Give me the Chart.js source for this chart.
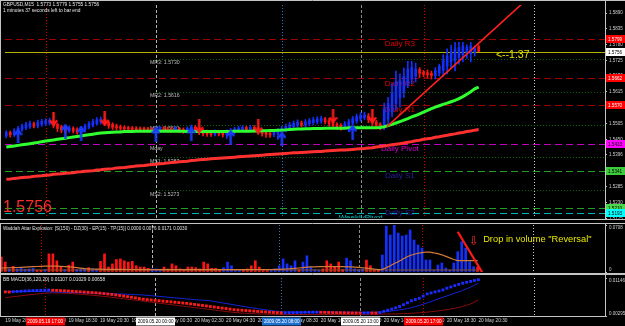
<!DOCTYPE html>
<html>
<head>
<meta charset="utf-8">
<title>GBPUSD M15</title>
<script src="https://cdn.jsdelivr.net/npm/chart.js@4.4.1/dist/chart.umd.min.js"></script>
<style>
  html, body { margin:0; padding:0; background:#000; }
  body { width:625px; height:326px; overflow:hidden; position:relative; }
  canvas { position:absolute; left:0; display:block; }
</style>
</head>
<body>
<canvas id="cMain" width="625" height="223" style="top:0px"></canvas>
<canvas id="cVol" width="625" height="51" style="top:223px"></canvas>
<canvas id="cMacd" width="625" height="52" style="top:274px"></canvas>
<script>
const FONT = "'Liberation Sans', Arial, sans-serif";
Chart.defaults.font.family = FONT;

// ================= DATA =================
const symbolText = 'GBPUSD,M15';
const timerText = '1 minutes 37 seconds left to bar end';
const timerArrow = '<--1:37';

// time axis (bar index)
const X_MIN = -0.33, X_MAX = 152.1;
const timeTickIdx  = [0, 8, 16, 24, 32, 40, 48, 56, 64, 72, 80, 88, 96, 104, 112, 120];
const timeTickText = ['19 May 2009','19 May 16:30','19 May 18:30','19 May 20:30','19 May 22:30','20 May 00:30',
  '20 May 02:30','20 May 04:30','20 May 06:30','20 May 08:30','20 May 10:30','20 May 12:30','20 May 14:30',
  '20 May 16:30','20 May 18:30','20 May 20:30'];
const markIdx  = [10, 38, 70, 90, 106];
const markText = ['2009.05.19 17:00','2009.05.20 00:00','2009.05.20 08:00','2009.05.20 13:00','2009.05.20 17:00'];
const markKind = ['red','white','blue','white','red'];
const sepIdx  = [10, 38, 70, 90, 106, 134];
const sepKind = ['sessionRed','dayGray','sessionBlue','midGray','sessionRed','dayLight'];

// candles
const openP = [
 1.5462,1.5474,1.5466,1.5476,1.5484,1.5490,1.5494,1.5504,1.5496,1.5502,
 1.5505,1.5507,1.5512,1.5502,1.5494,1.5488,1.5479,1.5489,1.5483,1.5476,
 1.5484,1.5492,1.5499,1.5505,1.5510,1.5518,1.5510,1.5502,1.5497,1.5494,
 1.5492,1.5491,1.5490,1.5489,1.5488,1.5488,1.5487,1.5486,1.5480,1.5484,
 1.5490,1.5487,1.5485,1.5480,1.5488,1.5484,1.5477,1.5482,1.5492,1.5486,
 1.5480,1.5476,1.5474,1.5467,1.5476,1.5473,1.5466,1.5472,1.5477,1.5481,
 1.5484,1.5491,1.5484,1.5492,1.5486,1.5480,1.5475,1.5472,1.5466,1.5470,
 1.5476,1.5482,1.5489,1.5494,1.5499,1.5508,1.5500,1.5505,1.5509,1.5511,
 1.5514,1.5521,1.5515,1.5509,1.5503,1.5499,1.5493,1.5498,1.5506,1.5513,
 1.5521,1.5525,1.5532,1.5522,1.5511,1.5503,1.5500,1.5520,1.5545,1.5575,
 1.5595,1.5615,1.5640,1.5660,1.5670,1.5693,1.5684,1.5682,1.5680,1.5672,
 1.5680,1.5690,1.5705,1.5720,1.5725,1.5735,1.5745,1.5752,1.5748,1.5755,
 1.5773];
const closeP = [
 1.5474,1.5466,1.5480,1.5489,1.5497,1.5502,1.5506,1.5496,1.5509,1.5513,
 1.5515,1.5516,1.5498,1.5488,1.5482,1.5479,1.5490,1.5479,1.5475,1.5488,
 1.5497,1.5505,1.5512,1.5518,1.5520,1.5506,1.5497,1.5492,1.5490,1.5488,
 1.5486,1.5485,1.5484,1.5484,1.5483,1.5482,1.5481,1.5480,1.5489,1.5492,
 1.5483,1.5481,1.5480,1.5489,1.5479,1.5477,1.5488,1.5493,1.5481,1.5474,
 1.5470,1.5468,1.5467,1.5477,1.5469,1.5466,1.5477,1.5482,1.5486,1.5489,
 1.5492,1.5484,1.5492,1.5481,1.5475,1.5470,1.5467,1.5465,1.5475,1.5481,
 1.5488,1.5495,1.5501,1.5506,1.5510,1.5500,1.5511,1.5515,1.5518,1.5521,
 1.5523,1.5511,1.5504,1.5498,1.5494,1.5491,1.5504,1.5512,1.5521,1.5529,
 1.5533,1.5535,1.5518,1.5507,1.5499,1.5493,1.5555,1.5575,1.5610,1.5650,
 1.5655,1.5670,1.5695,1.5700,1.5695,1.5680,1.5676,1.5675,1.5672,1.5690,
 1.5705,1.5725,1.5740,1.5755,1.5765,1.5770,1.5775,1.5770,1.5775,1.5768,
 1.5756];
const highP = [
 1.5480,1.5479,1.5487,1.5495,1.5503,1.5509,1.5514,1.5510,1.5517,1.5520,
 1.5522,1.5524,1.5516,1.5506,1.5499,1.5494,1.5497,1.5494,1.5490,1.5495,
 1.5503,1.5512,1.5520,1.5526,1.5528,1.5524,1.5515,1.5508,1.5503,1.5500,
 1.5498,1.5496,1.5495,1.5494,1.5494,1.5493,1.5492,1.5491,1.5494,1.5497,
 1.5495,1.5493,1.5491,1.5495,1.5492,1.5490,1.5494,1.5500,1.5498,1.5491,
 1.5486,1.5482,1.5480,1.5483,1.5481,1.5478,1.5483,1.5488,1.5492,1.5496,
 1.5498,1.5496,1.5499,1.5498,1.5491,1.5485,1.5481,1.5478,1.5481,1.5487,
 1.5495,1.5503,1.5509,1.5514,1.5518,1.5514,1.5519,1.5523,1.5527,1.5529,
 1.5531,1.5527,1.5523,1.5514,1.5508,1.5505,1.5512,1.5520,1.5530,1.5538,
 1.5543,1.5545,1.5540,1.5527,1.5516,1.5508,1.5576,1.5596,1.5644,1.5688,
 1.5678,1.5698,1.5722,1.5722,1.5716,1.5700,1.5690,1.5692,1.5688,1.5700,
 1.5712,1.5745,1.5765,1.5778,1.5788,1.5788,1.5788,1.5779,1.5788,1.5775,
 1.5779];
const lowP = [
 1.5455,1.5458,1.5460,1.5466,1.5478,1.5484,1.5488,1.5490,1.5490,1.5495,
 1.5498,1.5500,1.5490,1.5477,1.5473,1.5470,1.5474,1.5472,1.5468,1.5470,
 1.5478,1.5486,1.5493,1.5499,1.5503,1.5498,1.5488,1.5484,1.5483,1.5481,
 1.5480,1.5479,1.5478,1.5477,1.5477,1.5476,1.5475,1.5474,1.5463,1.5478,
 1.5478,1.5476,1.5474,1.5476,1.5474,1.5471,1.5472,1.5476,1.5474,1.5466,
 1.5462,1.5460,1.5460,1.5462,1.5462,1.5458,1.5453,1.5466,1.5470,1.5475,
 1.5478,1.5478,1.5479,1.5474,1.5467,1.5461,1.5457,1.5457,1.5459,1.5450,
 1.5469,1.5476,1.5482,1.5487,1.5492,1.5493,1.5494,1.5497,1.5501,1.5504,
 1.5506,1.5504,1.5496,1.5490,1.5485,1.5482,1.5487,1.5476,1.5500,1.5506,
 1.5513,1.5518,1.5508,1.5497,1.5489,1.5483,1.5484,1.5494,1.5528,1.5552,
 1.5562,1.5596,1.5630,1.5644,1.5650,1.5665,1.5668,1.5665,1.5660,1.5660,
 1.5670,1.5670,1.5678,1.5698,1.5688,1.5712,1.5720,1.5732,1.5720,1.5740,
 1.5755];

// moving averages
const maFast = [
 1.5423,1.5425,1.5427,1.5429,1.5431,1.5433,1.5435,1.5437,1.5439,1.5442,
 1.5444,1.5446,1.5448,1.5450,1.5452,1.5454,1.5456,1.5458,1.5460,1.5462,
 1.5464,1.5466,1.5468,1.5470,1.5472,1.5473,1.5474,1.5475,1.5476,1.5476,
 1.5477,1.5477,1.5477,1.5478,1.5478,1.5478,1.5478,1.5478,1.5478,1.5478,
 1.5478,1.5478,1.5478,1.5478,1.5478,1.5478,1.5477,1.5477,1.5477,1.5477,
 1.5477,1.5477,1.5477,1.5477,1.5477,1.5477,1.5477,1.5477,1.5478,1.5478,
 1.5478,1.5478,1.5478,1.5479,1.5479,1.5480,1.5480,1.5481,1.5481,1.5482,
 1.5482,1.5483,1.5484,1.5485,1.5486,1.5486,1.5487,1.5487,1.5488,1.5488,
 1.5488,1.5489,1.5489,1.5489,1.5489,1.5489,1.5489,1.5490,1.5490,1.5490,
 1.5490,1.5490,1.5490,1.5490,1.5490,1.5491,1.5494,1.5498,1.5502,1.5507,
 1.5512,1.5517,1.5522,1.5528,1.5533,1.5539,1.5545,1.5551,1.5557,1.5562,
 1.5567,1.5572,1.5576,1.5581,1.5586,1.5592,1.5599,1.5607,1.5616,1.5626,
 1.5632];
const maSlow = [
 1.5311,1.5312,1.5314,1.5315,1.5317,1.5318,1.5319,1.5321,1.5322,1.5323,
 1.5325,1.5326,1.5328,1.5329,1.5330,1.5332,1.5333,1.5334,1.5336,1.5337,
 1.5339,1.5340,1.5341,1.5343,1.5344,1.5346,1.5347,1.5348,1.5350,1.5351,
 1.5352,1.5354,1.5355,1.5357,1.5358,1.5359,1.5361,1.5362,1.5363,1.5365,
 1.5366,1.5368,1.5369,1.5370,1.5372,1.5373,1.5374,1.5376,1.5377,1.5379,
 1.5380,1.5381,1.5382,1.5383,1.5384,1.5385,1.5386,1.5387,1.5388,1.5389,
 1.5390,1.5391,1.5392,1.5393,1.5394,1.5395,1.5396,1.5397,1.5398,1.5399,
 1.5400,1.5401,1.5402,1.5403,1.5403,1.5404,1.5405,1.5406,1.5407,1.5408,
 1.5408,1.5409,1.5410,1.5411,1.5412,1.5413,1.5413,1.5414,1.5415,1.5416,
 1.5417,1.5418,1.5420,1.5421,1.5423,1.5425,1.5427,1.5429,1.5431,1.5433,
 1.5435,1.5437,1.5440,1.5442,1.5445,1.5447,1.5450,1.5452,1.5454,1.5457,
 1.5459,1.5462,1.5464,1.5467,1.5469,1.5472,1.5474,1.5477,1.5479,1.5482,
 1.5484];

// trend line (two anchor points: bar index, price)
const trendIdx = [96.7, 131.5];
const trendPrice = [1.5494, 1.5928];

// signal arrows
const buyIdx = [3, 15, 19, 38, 47, 57, 70, 88];
const buyPrice = [1.5462, 1.5479, 1.5472, 1.5468, 1.5469, 1.5458, 1.5452, 1.5475];
const sellIdx = [12, 25, 49, 64, 83, 93];
const sellPrice = [1.5520, 1.5521, 1.5496, 1.5494, 1.5530, 1.5530];

// price axis
const Y_MIN = 1.5176, Y_MAX = 1.5918;
const priceTicks = [1.5175, 1.5230, 1.5285, 1.5341, 1.5396, 1.5450, 1.5505, 1.5560, 1.5615, 1.5670, 1.5725, 1.5780, 1.5835, 1.5890];

// pivot levels
const pivotNames  = ['Daily R3','Daily R2','Daily R1','Daily Pivot','Daily S1','Daily S2','WeeklyPivot'];
const pivotValues = [1.5799, 1.5662, 1.5570, 1.5433, 1.5341, 1.5210, 1.5193];
const midNames  = ['MR3','MR2','MR1','Mday','MS1','MS2'];
const midValues = [1.5730, 1.5616, 1.5501, 1.5433, 1.5387, 1.5273];
const midStartIdx = 38;

// Waddah Attar Explosion (signed: + trend up, - trend down)
const waeTrend = [
 -0.0226,-0.0150, 0.0047,-0.0085, 0.0047, 0.0056, 0.0038, 0.0047, 0.0056,-0.0028,
 -0.0028, 0.0038,-0.0273,-0.0273,-0.0169,-0.0075, 0.0038,-0.0103,-0.0150, 0.0038,
  0.0047, 0.0056,-0.0066, 0.0047, 0.0038,-0.0160,-0.0273,-0.0075,-0.0122,-0.0188,
 -0.0197,-0.0169,-0.0150,-0.0160,-0.0094,-0.0075,-0.0075,-0.0056, 0.0047, 0.0047,
  0.0028,-0.0075,-0.0047,-0.0122,-0.0094,-0.0047,-0.0038,-0.0075,-0.0075,-0.0066,
 -0.0047,-0.0150,-0.0122,-0.0056,-0.0056,-0.0028, 0.0066, 0.0150, 0.0094, 0.0038,
  0.0038,-0.0028,-0.0047,-0.0094,-0.0169,-0.0075,-0.0028,-0.0028, 0.0038, 0.0047,
  0.0094, 0.0197, 0.0122, 0.0094, 0.0169,-0.0038, 0.0150, 0.0244, 0.0075, 0.0038,
  0.0028,-0.0047,-0.0169,-0.0122,-0.0075,-0.0150,-0.0038, 0.0207, 0.0169, 0.0047,
  0.0038, 0.0047,-0.0179,-0.0094,-0.0038,-0.0028, 0.0256, 0.0690, 0.0557, 0.0708,
  0.0587, 0.0542, 0.0557, 0.0633, 0.0482, 0.0407, 0.0361, 0.0181, 0.0181, 0.0030,
  0.0105, 0.0136, 0.0060, 0.0030, 0.0136, 0.0306, 0.0456, 0.0361, 0.0155, 0.0080,
 -0.0076];
const explosion = [
 0.0060,0.0062,0.0064,0.0066,0.0068,0.0070,0.0073,0.0076,0.0080,0.0083,
 0.0085,0.0087,0.0088,0.0088,0.0087,0.0085,0.0082,0.0078,0.0072,0.0065,
 0.0058,0.0052,0.0048,0.0045,0.0043,0.0042,0.0041,0.0040,0.0040,0.0040,
 0.0039,0.0039,0.0038,0.0038,0.0038,0.0037,0.0037,0.0037,0.0036,0.0036,
 0.0036,0.0036,0.0036,0.0035,0.0035,0.0035,0.0035,0.0035,0.0035,0.0035,
 0.0035,0.0036,0.0036,0.0036,0.0036,0.0036,0.0036,0.0036,0.0037,0.0037,
 0.0037,0.0037,0.0037,0.0037,0.0038,0.0038,0.0038,0.0038,0.0038,0.0039,
 0.0040,0.0042,0.0045,0.0050,0.0055,0.0060,0.0066,0.0072,0.0076,0.0078,
 0.0080,0.0081,0.0082,0.0082,0.0082,0.0081,0.0080,0.0078,0.0076,0.0073,
 0.0069,0.0064,0.0058,0.0050,0.0042,0.0036,0.0040,0.0066,0.0094,0.0127,
 0.0155,0.0188,0.0221,0.0249,0.0268,0.0282,0.0293,0.0301,0.0299,0.0287,
 0.0277,0.0259,0.0235,0.0212,0.0188,0.0172,0.0171,0.0171,0.0171,0.0171,
 0.0171];
const deadZone = 0.0030;
const volTicks = [0, 0.0708];
const volLineIdx = [115.0, 121.3];
const volLineVal = [0.0607, -0.0020];
const dropNote = { text: 'Drop in volume "Reversal"', idx: 121.4, val: 0.0497 };
const dropArrow = { text: '\u21E9', idx: 119.1, val: 0.0452 };
const waeTitle = 'Waddah Attar Explosion: [S(150) - DZ(30) - EP(15) - TP(15)] 0.0000 0.0076 0.0171 0.0030';

// BB MACD
const macd = [
 0.00835,0.00832,0.00838,0.00845,0.00850,0.00855,0.00860,0.00864,0.00868,0.00871,
 0.00874,0.00876,0.00872,0.00868,0.00864,0.00860,0.00855,0.00850,0.00844,0.00838,
 0.00832,0.00826,0.00820,0.00813,0.00806,0.00797,0.00788,0.00778,0.00767,0.00755,
 0.00742,0.00728,0.00714,0.00700,0.00686,0.00672,0.00663,0.00654,0.00646,0.00637,
 0.00628,0.00620,0.00612,0.00603,0.00595,0.00586,0.00578,0.00566,0.00554,0.00543,
 0.00531,0.00520,0.00508,0.00496,0.00484,0.00472,0.00461,0.00449,0.00437,0.00430,
 0.00424,0.00418,0.00411,0.00405,0.00398,0.00392,0.00386,0.00380,0.00375,0.00370,
 0.00366,0.00367,0.00369,0.00371,0.00373,0.00375,0.00377,0.00379,0.00380,0.00380,
 0.00378,0.00376,0.00374,0.00372,0.00370,0.00369,0.00367,0.00366,0.00365,0.00364,
 0.00363,0.00364,0.00365,0.00364,0.00363,0.00370,0.00400,0.00425,0.00450,0.00478,
 0.00508,0.00548,0.00590,0.00635,0.00665,0.00693,0.00740,0.00790,0.00812,0.00835,
 0.00855,0.00880,0.00918,0.00945,0.00975,0.01003,0.01030,0.01050,0.01070,0.01090,
 0.01107];
const bandUp = [
 0.00842,0.00843,0.00844,0.00845,0.00846,0.00846,0.00846,0.00845,0.00844,0.00843,
 0.00840,0.00836,0.00833,0.00831,0.00828,0.00826,0.00823,0.00821,0.00818,0.00816,
 0.00813,0.00811,0.00808,0.00805,0.00803,0.00800,0.00797,0.00794,0.00791,0.00788,
 0.00785,0.00782,0.00778,0.00774,0.00770,0.00765,0.00758,0.00750,0.00742,0.00734,
 0.00726,0.00718,0.00710,0.00702,0.00694,0.00686,0.00678,0.00670,0.00662,0.00655,
 0.00648,0.00642,0.00636,0.00620,0.00605,0.00590,0.00575,0.00560,0.00545,0.00530,
 0.00515,0.00500,0.00486,0.00472,0.00459,0.00446,0.00434,0.00422,0.00410,0.00398,
 0.00388,0.00384,0.00382,0.00381,0.00380,0.00380,0.00380,0.00381,0.00382,0.00383,
 0.00384,0.00385,0.00385,0.00384,0.00383,0.00382,0.00381,0.00380,0.00379,0.00378,
 0.00377,0.00377,0.00377,0.00378,0.00380,0.00384,0.00390,0.00398,0.00408,0.00420,
 0.00433,0.00446,0.00460,0.00480,0.00505,0.00530,0.00560,0.00590,0.00620,0.00652,
 0.00685,0.00715,0.00745,0.00775,0.00805,0.00835,0.00870,0.00905,0.00940,0.00985,
 0.01030];
const bandDn = [
 0.00706,0.00716,0.00727,0.00737,0.00748,0.00758,0.00768,0.00778,0.00788,0.00797,
 0.00805,0.00810,0.00812,0.00811,0.00809,0.00806,0.00802,0.00797,0.00791,0.00784,
 0.00777,0.00769,0.00761,0.00752,0.00743,0.00734,0.00724,0.00714,0.00704,0.00693,
 0.00682,0.00671,0.00660,0.00649,0.00638,0.00627,0.00616,0.00605,0.00594,0.00583,
 0.00572,0.00561,0.00550,0.00539,0.00528,0.00517,0.00506,0.00495,0.00484,0.00473,
 0.00462,0.00451,0.00440,0.00429,0.00418,0.00407,0.00396,0.00385,0.00376,0.00368,
 0.00361,0.00355,0.00350,0.00346,0.00342,0.00339,0.00336,0.00334,0.00332,0.00331,
 0.00330,0.00329,0.00329,0.00328,0.00328,0.00328,0.00327,0.00327,0.00327,0.00327,
 0.00327,0.00328,0.00328,0.00328,0.00329,0.00329,0.00330,0.00330,0.00331,0.00331,
 0.00332,0.00332,0.00333,0.00334,0.00335,0.00336,0.00337,0.00339,0.00341,0.00343,
 0.00346,0.00349,0.00352,0.00356,0.00361,0.00367,0.00374,0.00382,0.00391,0.00401,
 0.00412,0.00424,0.00437,0.00452,0.00468,0.00486,0.00510,0.00535,0.00565,0.00605,
 0.00658];
const macdTicks = [0.00295, 0.01146];
const macdTitle = 'BB MACD(36,120,20) 0.01107 0.01029 0.00658';

// ================= STYLES =================
const C_UP = '#1430ff', C_DN = '#ff1414';
const SEP_STYLE = {
  sessionRed:  { color:'#c80000', dash:[1,2] },
  dayGray:     { color:'#b4b4b4', dash:[3,2] },
  sessionBlue: { color:'#2a78c8', dash:[1,2] },
  midGray:     { color:'#8c8c8c', dash:[3,2] },
  dayLight:    { color:'#c8c8c8', dash:[1,2] }
};
const PIVOT_STYLE = {
  'Daily R3':    { line:'#9c0000', dash:[7,4], text:'#e00000', box:'#ff0000', boxText:'#ffffff', at:100 },
  'Daily R2':    { line:'#9c0000', dash:[7,4], text:'#e00000', box:'#ff0000', boxText:'#ffffff', at:100 },
  'Daily R1':    { line:'#9c0000', dash:[7,4], text:'#e00000', box:'#ff0000', boxText:'#ffffff', at:100 },
  'Daily Pivot': { line:'#c000c0', dash:[7,4], text:'#d000d0', box:'#ff00ff', boxText:'#000000', at:100 },
  'Daily S1':    { line:'#22a022', dash:[7,4], text:'#22229a', box:'#3ccc3c', boxText:'#000000', at:100 },
  'Daily S2':    { line:'#22a022', dash:[7,4], text:'#22229a', box:'#4cd84c', boxText:'#000000', at:100 },
  'WeeklyPivot': { line:'#00b4b4', dash:[7,4], text:'#00c8c8', box:'#00ffff', boxText:'#000000', at:90 }
};
const MARK_STYLE = {
  red:   { bg:'#ff0000', fg:'#ffffff' },
  white: { bg:'#ffffff', fg:'#000000' },
  blue:  { bg:'#1e70cc', fg:'#ffffff' }
};

// ================= HELPERS =================
function txt(ctx, s, x, y, color, size, align, baseline, family) {
  ctx.save();
  ctx.fillStyle = color;
  ctx.font = size + 'px ' + (family || FONT);
  ctx.textAlign = align || 'left';
  ctx.textBaseline = baseline || 'middle';
  ctx.fillText(s, x, y);
  ctx.restore();
}
function drawVLines(chart) {
  const { ctx, chartArea: a, scales: { x } } = chart;
  ctx.save();
  ctx.lineWidth = 1;
  sepIdx.forEach((v, k) => {
    const st = SEP_STYLE[sepKind[k]];
    const px = Math.round(x.getPixelForValue(v)) + 0.5;
    ctx.strokeStyle = st.color;
    ctx.setLineDash(st.dash);
    ctx.beginPath(); ctx.moveTo(px, a.top); ctx.lineTo(px, a.bottom); ctx.stroke();
  });
  ctx.restore();
}
function drawFrame(chart, topY, botY, fullBottom) {
  const { ctx, chartArea: a } = chart;
  ctx.save();
  ctx.strokeStyle = '#c4c4c4';
  ctx.lineWidth = 1;
  ctx.setLineDash([]);
  ctx.beginPath();
  ctx.moveTo(0, topY); ctx.lineTo(625, topY);
  ctx.moveTo(0, botY); ctx.lineTo(fullBottom ? 625 : a.right + 0.5, botY);
  ctx.moveTo(0.5, topY); ctx.lineTo(0.5, botY);
  ctx.moveTo(a.right + 0.5, topY); ctx.lineTo(a.right + 0.5, botY);
  ctx.stroke();
  ctx.restore();
}
function makeArrow(color, down) {
  const c = document.createElement('canvas');
  c.width = 9; c.height = 15;
  const g = c.getContext('2d');
  g.strokeStyle = color; g.lineWidth = 2.4; g.lineJoin = 'miter';
  if (!down) { g.translate(0, 15); g.scale(1, -1); }
  g.beginPath(); g.moveTo(4.5, 0); g.lineTo(4.5, 13); g.stroke();
  g.beginPath(); g.moveTo(0.8, 8.4); g.lineTo(4.5, 13.2); g.lineTo(8.2, 8.4); g.stroke();
  return c;
}
const arrowUpImg = makeArrow('#1a3cff', false);
const arrowDownImg = makeArrow('#ff1a1a', true);

function rightAxis(min, max, ticksArr, cb) {
  return {
    position: 'right', min: min, max: max,
    afterFit: s => { s.width = 20; s.paddingTop = 0; s.paddingBottom = 0; },
    afterBuildTicks: s => { s.ticks = ticksArr.map(v => ({ value: v })); },
    ticks: { autoSkip: false, color: '#cfcfcf', font: { size: 4.5 }, padding: 2, callback: cb },
    grid: { drawOnChartArea: false, drawTicks: true, tickLength: 2, color: '#bdbdbd' },
    border: { display: false }
  };
}
function hiddenX() {
  return { type: 'linear', min: X_MIN, max: X_MAX, display: false, offset: false, grid: { display: false } };
}
const baseOpts = {
  responsive: false, animation: false, devicePixelRatio: 1, events: [],
  plugins: { legend: { display: false }, tooltip: { enabled: false } }
};

// ================= MAIN CHART =================
const lastI = closeP.length - 1;
const lastPrice = closeP[lastI];
const candleIdx = closeP.map((_, i) => i);
const candleColor = closeP.map((c, i) => c >= openP[i] ? C_UP : C_DN);

const mainOverlay = {
  id: 'mainOverlay',
  beforeDatasetsDraw(chart) {
    const { ctx, chartArea: a, scales: { x, y } } = chart;
    ctx.save();
    ctx.beginPath(); ctx.rect(a.left, a.top, a.right - a.left, a.bottom - a.top); ctx.clip();
    drawVLines(chart);
    ctx.lineWidth = 1;
    midNames.forEach((n, k) => {
      const py = Math.round(y.getPixelForValue(midValues[k])) + 0.5;
      if (n !== 'Mday') {
        ctx.strokeStyle = '#0e6a0e'; ctx.setLineDash([1, 2]);
        ctx.beginPath(); ctx.moveTo(x.getPixelForValue(midStartIdx), py); ctx.lineTo(a.right, py); ctx.stroke();
      }
    });
    pivotNames.forEach((n, k) => {
      const st = PIVOT_STYLE[n];
      const py = Math.round(y.getPixelForValue(pivotValues[k])) + 0.5;
      ctx.strokeStyle = st.line; ctx.setLineDash(st.dash);
      ctx.beginPath(); ctx.moveTo(a.left, py); ctx.lineTo(a.right, py); ctx.stroke();
    });
    const pl = Math.round(y.getPixelForValue(lastPrice)) + 0.5;
    ctx.setLineDash([]); ctx.strokeStyle = '#b4b400';
    ctx.beginPath(); ctx.moveTo(a.left, pl); ctx.lineTo(a.right, pl); ctx.stroke();
    midNames.forEach((n, k) => {
      const py = y.getPixelForValue(midValues[k]);
      const s = n === 'Mday' ? n : n + ': ' + midValues[k].toFixed(4);
      txt(ctx, s, x.getPixelForValue(36.5), py + 1.5, '#bdbdbd', 5.2, 'left', 'top');
    });
    pivotNames.forEach((n, k) => {
      const st = PIVOT_STYLE[n];
      const py = y.getPixelForValue(pivotValues[k]);
      txt(ctx, n, x.getPixelForValue(st.at), py + 1, st.text, 8, 'center', 'top');
    });
    ctx.restore();
  },
  afterDraw(chart) {
    const { ctx, chartArea: a, scales: { x, y } } = chart;
    const hdr = symbolText + '  ' + [openP[lastI], highP[lastI], lowP[lastI], closeP[lastI]].map(v => v.toFixed(4)).join(' ');
    txt(ctx, hdr, 3, 4.8, '#e6e6e6', 4.8);
    txt(ctx, timerText, 3, 10.6, '#e6e6e6', 4.8);
    txt(ctx, lastPrice.toFixed(4), 3, a.bottom - 10, '#ff2a2a', 16);
    txt(ctx, timerArrow, x.getPixelForValue(124.4), y.getPixelForValue(lastPrice) + 3.5, '#e2e200', 10.5);
    drawFrame(chart, 0.5, a.bottom + 1.5, true);
    const boxes = pivotNames.map((n, k) => ({ v: pivotValues[k], bg: PIVOT_STYLE[n].box, fg: PIVOT_STYLE[n].boxText }));
    boxes.push({ v: lastPrice, bg: '#ffffff', fg: '#000000' });
    boxes.forEach(b => {
      const py = Math.round(y.getPixelForValue(b.v));
      ctx.fillStyle = b.bg;
      ctx.fillRect(a.right + 1, py - 4, 19, 8);
      txt(ctx, b.v.toFixed(4), a.right + 3, py + 0.3, b.fg, 4.6);
    });
  }
};

new Chart(document.getElementById('cMain'), {
  type: 'bar',
  data: { datasets: [
    { type: 'line', data: buyIdx.map((v, k) => ({ x: v, y: buyPrice[k] })), showLine: false, pointStyle: arrowUpImg, pointRadius: 4, order: 1 },
    { type: 'line', data: sellIdx.map((v, k) => ({ x: v, y: sellPrice[k] })), showLine: false, pointStyle: arrowDownImg, pointRadius: 4, order: 1 },
    { type: 'line', data: trendIdx.map((v, k) => ({ x: v, y: trendPrice[k] })), borderColor: '#ff2020', borderWidth: 1.6, pointRadius: 0, order: 2 },
    { type: 'line', data: maFast.map((v, i) => ({ x: i, y: v })), borderColor: '#30ff30', borderWidth: 3, pointRadius: 0, order: 3 },
    { type: 'line', data: maSlow.map((v, i) => ({ x: i, y: v })), borderColor: '#ff3030', borderWidth: 3, pointRadius: 0, order: 4 },
    { type: 'bar', data: candleIdx.map(i => ({ x: i, y: [openP[i], closeP[i]] })), backgroundColor: candleColor, borderWidth: 0, barThickness: 2, grouped: false, minBarLength: 1, order: 5 },
    { type: 'bar', data: candleIdx.map(i => ({ x: i, y: [lowP[i], highP[i]] })), backgroundColor: candleColor, borderWidth: 0, barThickness: 1, grouped: false, order: 6 }
  ]},
  options: Object.assign({}, baseOpts, {
    layout: { padding: { left: 0, right: 0, top: 2, bottom: 2 } },
    scales: { x: hiddenX(), y: rightAxis(Y_MIN, Y_MAX, priceTicks, v => v.toFixed(4)) }
  }),
  plugins: [mainOverlay]
});

// ================= VOLUME (WAE) =================
const volOverlay = {
  id: 'volOverlay',
  beforeDatasetsDraw(chart) {
    const { ctx, chartArea: a } = chart;
    ctx.save();
    ctx.beginPath(); ctx.rect(a.left, a.top, a.right - a.left, a.bottom - a.top); ctx.clip();
    drawVLines(chart);
    ctx.restore();
  },
  afterDatasetsDraw(chart) {
    const { ctx, scales: { x, y } } = chart;
    txt(ctx, dropArrow.text, x.getPixelForValue(dropArrow.idx), y.getPixelForValue(dropArrow.val), '#ff2a2a', 12, 'center', 'middle', "'DejaVu Sans', sans-serif");
    txt(ctx, dropNote.text, x.getPixelForValue(dropNote.idx), y.getPixelForValue(dropNote.val), '#e8e800', 9.3, 'left', 'middle');
  },
  afterDraw(chart) {
    const { ctx, chartArea: a } = chart;
    txt(ctx, waeTitle, 3, 5.3, '#e0e0e0', 4.6);
    drawFrame(chart, 0.5, a.bottom + 1.5, true);
  }
};
new Chart(document.getElementById('cVol'), {
  type: 'bar',
  data: { datasets: [
    { type: 'line', data: volLineIdx.map((v, k) => ({ x: v, y: volLineVal[k] })), borderColor: '#ff1a1a', borderWidth: 2.2, pointRadius: 0, order: 1 },
    { type: 'line', data: explosion.map((v, i) => ({ x: i, y: v })), borderColor: '#d27a3a', borderWidth: 1.2, pointRadius: 0, order: 2 },
    { type: 'line', data: [{ x: 0, y: deadZone }, { x: lastI, y: deadZone }], borderColor: '#8a5020', borderWidth: 1, pointRadius: 0, order: 3 },
    { type: 'bar', data: waeTrend.map((v, i) => ({ x: i, y: v > 0 ? v : null })), backgroundColor: C_UP, borderWidth: 0, barThickness: 2, grouped: false, order: 4 },
    { type: 'bar', data: waeTrend.map((v, i) => ({ x: i, y: v < 0 ? -v : null })), backgroundColor: C_DN, borderWidth: 0, barThickness: 2, grouped: false, order: 4 }
  ]},
  options: Object.assign({}, baseOpts, {
    layout: { padding: { left: 0, right: 0, top: 2, bottom: 2 } },
    scales: { x: hiddenX(), y: rightAxis(0, 0.0708, volTicks, v => v === 0 ? ['0', ''] : ['', v.toFixed(4)]) }
  }),
  plugins: [volOverlay]
});

// ================= BB MACD =================
const macdColor = macd.map((v, i) => (i > 0 && v >= macd[i - 1]) ? '#1a2cff' : '#ff1a1a');
const macdOverlay = {
  id: 'macdOverlay',
  beforeDatasetsDraw(chart) {
    const { ctx, chartArea: a } = chart;
    ctx.save();
    ctx.beginPath(); ctx.rect(a.left, a.top, a.right - a.left, a.bottom - a.top); ctx.clip();
    drawVLines(chart);
    ctx.restore();
  },
  afterDraw(chart) {
    const { ctx, chartArea: a, scales: { x } } = chart;
    txt(ctx, macdTitle, 3, 5.5, '#e0e0e0', 4.8);
    drawFrame(chart, 0.5, a.bottom + 0.5, false);
    markIdx.forEach((v, k) => {
      const st = MARK_STYLE[markKind[k]];
      const px = x.getPixelForValue(v);
      ctx.fillStyle = st.bg;
      ctx.fillRect(Math.round(px - 19), a.bottom + 1.5, 39, 8);
      txt(ctx, markText[k], px + 0.5, a.bottom + 5.7, st.fg, 4.6, 'center');
    });
  }
};
new Chart(document.getElementById('cMacd'), {
  type: 'line',
  data: { datasets: [
    { data: macd.map((v, i) => ({ x: i, y: v })), showLine: false, pointStyle: 'rect', pointRadius: 2, pointBorderWidth: 0, pointBackgroundColor: macdColor, pointBorderColor: macdColor, order: 1 },
    { data: bandUp.map((v, i) => ({ x: i, y: v })), borderColor: '#1424d4', borderWidth: 1, pointRadius: 0, order: 2 },
    { data: bandDn.map((v, i) => ({ x: i, y: v })), borderColor: '#8c0c0c', borderWidth: 1, pointRadius: 0, order: 3 }
  ]},
  options: Object.assign({}, baseOpts, {
    layout: { padding: { left: 0, right: 0, top: 2, bottom: 0 } },
    scales: {
      x: {
        type: 'linear', min: X_MIN, max: X_MAX, offset: false, position: 'bottom',
        afterFit: s => { s.height = 10; s.paddingLeft = 0; s.paddingRight = 0; },
        afterBuildTicks: s => { s.ticks = timeTickIdx.map(v => ({ value: v })); },
        ticks: { autoSkip: false, maxRotation: 0, minRotation: 0, align: 'start', color: '#d4d4d4', font: { size: 4.8 }, padding: 1.5,
                 callback: (v, k) => timeTickText[k] },
        grid: { display: false, drawTicks: false, tickLength: 0 }, border: { display: false }
      },
      y: rightAxis(0.00295, 0.01146, macdTicks, v => v < 0.005 ? [v.toFixed(5), ''] : ['', v.toFixed(5)])
    }
  }),
  plugins: [macdOverlay]
});
</script>
</body>
</html>
